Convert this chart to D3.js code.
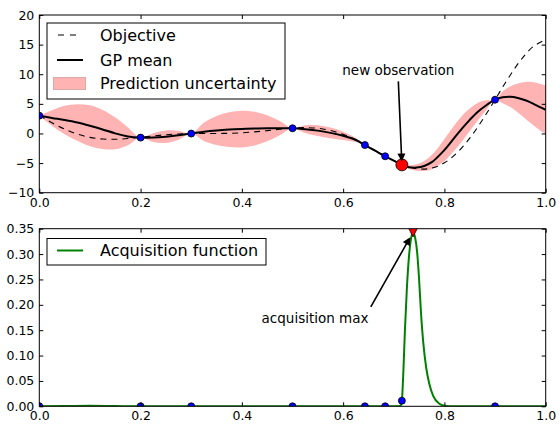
<!DOCTYPE html>
<html>
<head>
<meta charset="utf-8">
<script src="https://cdn.jsdelivr.net/npm/d3@7"></script>
<style>
body { margin: 0; background: #fff; }
svg { display: block; font-family: "DejaVu Sans", sans-serif; }
</style>
</head>
<body>
<div id="chart"></div>
<script>
// values
var xTicks = [0, 0.2, 0.4, 0.6, 0.8, 1.0];
var topYTicks = [-10, -5, 0, 5, 10, 15, 20];
var bottomYTicks = [0, 0.05, 0.10, 0.15, 0.20, 0.25, 0.30, 0.35];

var objectiveX = [0, 0.025, 0.05, 0.075, 0.1, 0.125, 0.15, 0.175, 0.2, 0.225, 0.25, 0.275, 0.3, 0.325,
    0.35, 0.375, 0.4, 0.425, 0.45, 0.475, 0.5, 0.525, 0.55, 0.575, 0.6, 0.625, 0.65, 0.675, 0.7,
    0.725, 0.75, 0.775, 0.8, 0.825, 0.85, 0.875, 0.9, 0.925, 0.95, 0.975, 1.0];
var objectiveY = [3.03, 1.81, 0.74, -0.10, -0.66, -0.94, -0.98, -0.85, -0.64, -0.41, -0.21, -0.08, -0.02, 0.00,
    0.00, 0.03, 0.11, 0.27, 0.48, 0.72, 0.91, 0.99, 0.87, 0.50, -0.15, -1.07, -2.21, -3.44, -4.61,
    -5.52, -5.99, -5.85, -4.95, -3.25, -0.80, 2.27, 5.71, 9.19, 12.30, 14.65, 15.83];

var gpX = [0, 0.025, 0.05, 0.075, 0.1, 0.125, 0.15, 0.175, 0.2, 0.225, 0.25, 0.275, 0.3, 0.325, 0.35,
    0.375, 0.4, 0.425, 0.45, 0.475, 0.5, 0.525, 0.55, 0.575, 0.6, 0.625, 0.643, 0.663, 0.683, 0.7,
    0.716, 0.73, 0.745, 0.76, 0.775, 0.79, 0.805, 0.82, 0.835, 0.85, 0.865, 0.88, 0.9, 0.915, 0.93,
    0.945, 0.96, 0.975, 0.99, 1.0];
var gpMean = [3.0, 2.62, 2.27, 1.85, 1.3, 0.68, 0.02, -0.5, -0.7, -0.7, -0.55, -0.3, -0.02, 0.28, 0.5,
    0.65, 0.75, 0.82, 0.88, 0.9, 0.88, 0.72, 0.48, 0.1, -0.4, -1.1, -1.95, -2.9, -3.85, -4.6,
    -5.3, -5.7, -5.75, -5.5, -4.85, -3.7, -2.3, -0.7, 0.85, 2.3, 3.6, 4.6, 5.7, 6.1, 6.2,
    6.0, 5.6, 5.05, 4.4, 4.0];
var gpHalfWidth = [0, 1.3, 2.4, 3.1, 3.45, 3.3, 2.7, 1.5, 0, 0.75, 1.05, 0.75, 0, 1.55, 2.45,
    2.95, 3.1, 2.85, 2.2, 1.2, 0, 0.65, 0.92, 0.9, 0.7, 0.35, 0, 0.1, 0, 0.08,
    0, 0.3, 0.55, 0.85, 1.2, 1.6, 1.95, 2.15, 2.15, 1.9, 1.5, 0.95, 0, 1.0, 1.75,
    2.45, 3.1, 3.6, 3.95, 4.1];

var obsX = [0, 0.2, 0.3, 0.5, 0.643, 0.683, 0.9];
var obsY = [3.0, -0.7, -0.02, 0.88, -1.95, -3.85, 5.7];
var newObsX = 0.716;
var newObsY = -5.3;

var acqX = [0, 0.05, 0.1, 0.15, 0.2, 0.4, 0.6, 0.7, 0.71, 0.714, 0.716, 0.719, 0.722, 0.726, 0.73,
    0.734, 0.738, 0.742, 0.746, 0.75, 0.754, 0.758, 0.764, 0.77, 0.778, 0.79, 0.8, 0.81, 0.9, 1.0];
var acqY = [0, 0.0004, 0.0009, 0.0004, 0, 0.0002, 0, 0, 0, 0.002, 0.011, 0.07, 0.15, 0.235, 0.295,
    0.33, 0.343, 0.333, 0.305, 0.25, 0.18, 0.128, 0.076, 0.045, 0.02, 0.005, 0.001, 0, 0, 0];
var acqObsX = [0, 0.2, 0.3, 0.5, 0.643, 0.683, 0.716, 0.9];
var acqObsY = [0, 0, 0, 0, 0, 0, 0.011, 0];
var acqMaxX = 0.738;
var acqMaxY = 0.343;

var topLegend = ["Objective", "GP mean", "Prediction uncertainty"];
var bottomLegend = ["Acquisition function"];

// layout
var width = 559, height = 424;
var plotLeft = 39.3, plotRight = 545.7;
var topPanel = { id: "clipTop", top: 15, bottom: 192.7 };
var bottomPanel = { id: "clipBottom", top: 228.7, bottom: 406.3 };
var bandColor = "#ffb3b3";

var svg = d3.select("#chart")
    .append("svg")
    .attr("width", width)
    .attr("height", height);

var x = d3.scaleLinear().domain([0, 1]).range([plotLeft, plotRight]);
var yTop = d3.scaleLinear().domain([-10, 20]).range([topPanel.bottom, topPanel.top]);
var yBottom = d3.scaleLinear().domain([0, 0.35]).range([bottomPanel.bottom, bottomPanel.top]);

function addClip(panel) {
    svg.append("clipPath")
        .attr("id", panel.id)
        .append("rect")
        .attr("x", plotLeft)
        .attr("y", panel.top)
        .attr("width", plotRight - plotLeft)
        .attr("height", panel.bottom - panel.top);
}

function drawFrame(panel, y, yTicks, yFormat) {
    var g = svg.append("g");
    g.append("g")
        .attr("transform", "translate(0," + panel.bottom + ")")
        .call(d3.axisBottom(x).tickValues(xTicks).tickFormat(d3.format(".1f"))
            .tickSizeInner(-4).tickSizeOuter(0).tickPadding(5));
    g.append("g")
        .attr("transform", "translate(0," + panel.top + ")")
        .call(d3.axisTop(x).tickValues(xTicks).tickFormat("").tickSizeInner(-4).tickSizeOuter(0));
    g.append("g")
        .attr("transform", "translate(" + plotLeft + ",0)")
        .call(d3.axisLeft(y).tickValues(yTicks).tickFormat(d3.format(yFormat))
            .tickSizeInner(-4).tickSizeOuter(0).tickPadding(5));
    g.append("g")
        .attr("transform", "translate(" + plotRight + ",0)")
        .call(d3.axisRight(y).tickValues(yTicks).tickFormat("").tickSizeInner(-4).tickSizeOuter(0));
    g.selectAll(".domain").remove();
    g.selectAll(".tick line").attr("stroke", "#000");
    g.selectAll(".tick text")
        .attr("fill", "#000")
        .attr("font-size", "12.5px")
        .attr("font-family", "DejaVu Sans");
    g.append("rect")
        .attr("x", plotLeft)
        .attr("y", panel.top)
        .attr("width", plotRight - plotLeft)
        .attr("height", panel.bottom - panel.top)
        .attr("fill", "none")
        .attr("stroke", "#000")
        .attr("stroke-width", 1);
}

function drawArrow(g, x1, y1, x2, y2, shrink) {
    var dx = x2 - x1, dy = y2 - y1;
    var len = Math.sqrt(dx * dx + dy * dy);
    var ux = dx / len, uy = dy / len;
    x2 = x2 - ux * shrink;
    y2 = y2 - uy * shrink;
    var px = -uy, py = ux;
    var headLen = 8, headHalf = 4, shaftHalf = 0.8;
    var bx = x2 - ux * headLen, by = y2 - uy * headLen;
    var pts = [
        [x1 + px * shaftHalf, y1 + py * shaftHalf],
        [bx + px * shaftHalf, by + py * shaftHalf],
        [bx + px * headHalf, by + py * headHalf],
        [x2, y2],
        [bx - px * headHalf, by - py * headHalf],
        [bx - px * shaftHalf, by - py * shaftHalf],
        [x1 - px * shaftHalf, y1 - py * shaftHalf]
    ];
    g.append("polygon")
        .attr("points", pts.map(p => p.join(",")).join(" "))
        .attr("fill", "#000");
}

addClip(topPanel);
addClip(bottomPanel);

// ---- top panel ----
var gpPoints = gpX.map((v, i) => ({ x: v, mean: gpMean[i], half: gpHalfWidth[i] }));
var objectivePoints = objectiveX.map((v, i) => ({ x: v, y: objectiveY[i] }));

var topG = svg.append("g").attr("clip-path", "url(#clipTop)");

topG.append("path")
    .datum(gpPoints)
    .attr("fill", bandColor)
    .attr("d", d3.area()
        .x(d => x(d.x))
        .y0(d => yTop(d.mean - d.half))
        .y1(d => yTop(d.mean + d.half))
        .curve(d3.curveCatmullRom));

topG.append("path")
    .datum(objectivePoints)
    .attr("fill", "none")
    .attr("stroke", "#000")
    .attr("stroke-width", 1.1)
    .attr("stroke-dasharray", "6,5")
    .attr("d", d3.line().x(d => x(d.x)).y(d => yTop(d.y)).curve(d3.curveCatmullRom));

topG.append("path")
    .datum(gpPoints)
    .attr("fill", "none")
    .attr("stroke", "#000")
    .attr("stroke-width", 2)
    .attr("d", d3.line().x(d => x(d.x)).y(d => yTop(d.mean)).curve(d3.curveCatmullRom));

topG.selectAll("circle.obs")
    .data(obsX)
    .enter()
    .append("circle")
    .attr("class", "obs")
    .attr("cx", d => x(d))
    .attr("cy", (d, i) => yTop(obsY[i]))
    .attr("r", 3.5)
    .attr("fill", "#0000ff")
    .attr("stroke", "#000")
    .attr("stroke-width", 0.8);

topG.append("circle")
    .attr("cx", x(newObsX))
    .attr("cy", yTop(newObsY))
    .attr("r", 6)
    .attr("fill", "#ff0000")
    .attr("stroke", "#000")
    .attr("stroke-width", 0.8);

var topNotes = svg.append("g");
topNotes.append("text")
    .attr("x", x(0.709))
    .attr("y", yTop(10.7))
    .attr("dy", "0.35em")
    .attr("text-anchor", "middle")
    .attr("font-size", "13.5px")
    .text("new observation");
drawArrow(topNotes, x(0.709), yTop(8.8), x(newObsX), yTop(newObsY), 3.3);

// top legend
var tl = svg.append("g");
tl.append("rect")
    .attr("x", 47).attr("y", 23).attr("width", 238).attr("height", 76)
    .attr("fill", "#fff").attr("stroke", "#000").attr("stroke-width", 1);
tl.append("line")
    .attr("x1", 58).attr("x2", 82).attr("y1", 35).attr("y2", 35)
    .attr("stroke", "#000").attr("stroke-width", 1.1).attr("stroke-dasharray", "6,6");
tl.append("line")
    .attr("x1", 57).attr("x2", 83).attr("y1", 60).attr("y2", 60)
    .attr("stroke", "#000").attr("stroke-width", 2);
tl.append("rect")
    .attr("x", 53.5).attr("y", 77.5).attr("width", 32).attr("height", 12)
    .attr("fill", bandColor).attr("stroke", "#d9a9a9").attr("stroke-width", 1);
tl.selectAll("text")
    .data(topLegend)
    .enter()
    .append("text")
    .attr("x", 100)
    .attr("y", (d, i) => [35, 60, 83.5][i])
    .attr("dy", "0.35em")
    .attr("font-size", "16px")
    .text(d => d);

drawFrame(topPanel, yTop, topYTicks, "d");

// ---- bottom panel ----
var acqPoints = acqX.map((v, i) => ({ x: v, y: acqY[i] }));
var bottomG = svg.append("g").attr("clip-path", "url(#clipBottom)");

bottomG.append("path")
    .datum(acqPoints)
    .attr("fill", "none")
    .attr("stroke", "#008000")
    .attr("stroke-width", 2)
    .attr("d", d3.line().x(d => x(d.x)).y(d => yBottom(d.y)).curve(d3.curveMonotoneX));

bottomG.selectAll("circle.obs")
    .data(acqObsX)
    .enter()
    .append("circle")
    .attr("class", "obs")
    .attr("cx", d => x(d))
    .attr("cy", (d, i) => yBottom(acqObsY[i]))
    .attr("r", 3.5)
    .attr("fill", "#0000ff")
    .attr("stroke", "#000")
    .attr("stroke-width", 0.8);

bottomG.append("path")
    .attr("transform", "translate(" + x(acqMaxX) + "," + yBottom(acqMaxY) + ")")
    .attr("d", "M-4.7,-4.7L4.7,-4.7L0,4.7Z")
    .attr("fill", "#ff0000")
    .attr("stroke", "#000")
    .attr("stroke-width", 0.8);

var bottomNotes = svg.append("g");
bottomNotes.append("text")
    .attr("x", x(0.5445))
    .attr("y", yBottom(0.174))
    .attr("dy", "0.35em")
    .attr("text-anchor", "middle")
    .attr("font-size", "13.5px")
    .text("acquisition max");
drawArrow(bottomNotes, x(0.6546), yBottom(0.196), x(acqMaxX), yBottom(acqMaxY), 5.6);

// bottom legend
var bl = svg.append("g");
bl.append("rect")
    .attr("x", 47).attr("y", 238.5).attr("width", 219).attr("height", 26.5)
    .attr("fill", "#fff").attr("stroke", "#000").attr("stroke-width", 1);
bl.append("line")
    .attr("x1", 57).attr("x2", 83).attr("y1", 250.5).attr("y2", 250.5)
    .attr("stroke", "#008000").attr("stroke-width", 2);
bl.selectAll("text")
    .data(bottomLegend)
    .enter()
    .append("text")
    .attr("x", 100)
    .attr("y", 250.5)
    .attr("dy", "0.35em")
    .attr("font-size", "16px")
    .text(d => d);

drawFrame(bottomPanel, yBottom, bottomYTicks, ".2f");
</script>
</body>
</html>
